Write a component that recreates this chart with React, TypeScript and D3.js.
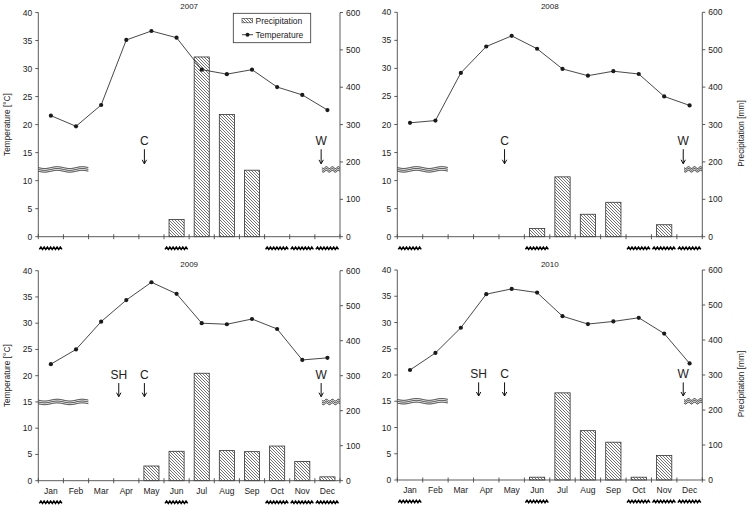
import React from "react";
import * as d3 from "d3";

const months = ["Jan", "Feb", "Mar", "Apr", "May", "Jun", "Jul", "Aug", "Sep", "Oct", "Nov", "Dec"];
const years = ["2007", "2008", "2009", "2010"];

const temp2007 = [21.6, 19.7, 23.5, 35.1, 36.7, 35.5, 29.8, 29.0, 29.8, 26.7, 25.3, 22.6];
const temp2008 = [20.3, 20.7, 29.2, 33.9, 35.8, 33.5, 29.9, 28.7, 29.5, 29.0, 25.0, 23.4];
const temp2009 = [22.2, 25.0, 30.3, 34.4, 37.8, 35.6, 30.0, 29.8, 30.8, 28.9, 23.0, 23.4];
const temp2010 = [20.95, 24.2, 29.0, 35.4, 36.4, 35.7, 31.2, 29.7, 30.2, 30.9, 27.9, 22.2];

const prec2007 = [0, 0, 0, 0, 0, 46, 481, 327, 178, 0, 0, 0];
const prec2008 = [0, 0, 0, 0, 0, 22, 160, 60, 92, 0, 32, 0];
const prec2009 = [0, 0, 0, 0, 42, 84, 307, 86, 83, 99, 55, 11];
const prec2010 = [0, 0, 0, 0, 0, 8, 249, 141, 108, 8, 70, 0];

const temps = [temp2007, temp2008, temp2009, temp2010];
const precs = [prec2007, prec2008, prec2009, prec2010];

// level (°C) of the wavy band marker per year
const waveLevel = [12, 12, 15, 15];

// event markers: label and position in months from Jan start
const markers2007 = [{ label: "C", pos: 4.22 }, { label: "W", pos: 11.25 }];
const markers2008 = [{ label: "C", pos: 4.22 }, { label: "W", pos: 11.25 }];
const markers2009 = [{ label: "SH", pos: 3.2 }, { label: "C", pos: 4.22 }, { label: "W", pos: 11.25 }];
const markers2010 = [{ label: "SH", pos: 3.2 }, { label: "C", pos: 4.22 }, { label: "W", pos: 11.25 }];
const markers = [markers2007, markers2008, markers2009, markers2010];

// months marked with zigzag below axis
const zigMonths = [0, 5, 9, 10, 11];

const tempTicks = [0, 5, 10, 15, 20, 25, 30, 35, 40];
const precTicks = [0, 100, 200, 300, 400, 500, 600];

const panels = [
  { left: 38.3, right: 340, top: 12.5, bottom: 236.7, leftTitle: true, rightTitle: false, monthLabels: false, legend: true },
  { left: 397.3, right: 702.3, top: 12.3, bottom: 236.7, leftTitle: false, rightTitle: true, monthLabels: false, legend: false },
  { left: 38.3, right: 340, top: 270.7, bottom: 480.7, leftTitle: true, rightTitle: false, monthLabels: true, legend: false },
  { left: 397.3, right: 702.3, top: 270, bottom: 480, leftTitle: false, rightTitle: true, monthLabels: true, legend: false },
];

const FONT = "'Liberation Sans', Arial, sans-serif";
const AXIS = "#4a4a4a";
const TXT = "#222";

function sinePath(x0: number, x1: number, y: number, period: number, amp: number) {
  const pts: [number, number][] = [];
  for (let x = x0; x <= x1 + 0.01; x += 0.5) {
    pts.push([x, y + amp * Math.sin(((x - x0) / period) * 2 * Math.PI)]);
  }
  return d3.line()(pts) || "";
}

function zigPath(x0: number, x1: number, y: number, n: number, amp: number) {
  const pts: [number, number][] = [];
  const steps = n * 2;
  for (let i = 0; i <= steps; i++) {
    pts.push([x0 + ((x1 - x0) * i) / steps, y + (i % 2 === 0 ? amp : -amp)]);
  }
  return d3.line()(pts) || "";
}

function WaveBand({ x0, x1, y, period }: { x0: number; x1: number; y: number; period: number }) {
  const gap = 1.8;
  return (
    <g>
      <rect x={x0} y={y - gap * 1.5} width={x1 - x0} height={gap * 3} fill="white" />
      {[-1, 0, 1].map((k) => (
        <path key={k} d={sinePath(x0, x1, y + k * gap, period, 0.9)} fill="none" stroke="#222" strokeWidth={1} />
      ))}
    </g>
  );
}

function Panel({ idx }: { idx: number }) {
  const p = panels[idx];
  const temp = temps[idx];
  const prec = precs[idx];
  const x = d3.scaleBand<string>().domain(months).range([p.left, p.right]).paddingInner(0.4).paddingOuter(0.2);
  const step = x.step();
  const yT = d3.scaleLinear().domain([0, 40]).range([p.bottom, p.top]);
  const yP = d3.scaleLinear().domain([0, 600]).range([p.bottom, p.top]);
  const line = d3
    .line<number>()
    .x((_, i) => (x(months[i]) as number) + x.bandwidth() / 2)
    .y((d) => yT(d));
  const bounds = d3.range(13).map((i) => p.left + i * step);
  const wl = waveLevel[idx];
  const zigY = p.monthLabels ? p.bottom + 21.5 : p.bottom + 11.5;
  const midY = (p.top + p.bottom) / 2;

  return (
    <g>
      <text x={(p.left + p.right) / 2} y={p.top - 3.5} textAnchor="middle" fontSize={8} fill={TXT}>
        {years[idx]}
      </text>

      {/* bars */}
      {prec.map((v, i) =>
        v > 0 ? (
          <rect
            key={i}
            x={x(months[i])}
            y={yP(v)}
            width={x.bandwidth()}
            height={yP(0) - yP(v)}
            fill="url(#hatch)"
            stroke="#333"
            strokeWidth={0.8}
          />
        ) : null
      )}

      {/* wavy band markers */}
      <WaveBand x0={p.left} x1={p.left + 2 * step} y={yT(wl)} period={step} />
      <WaveBand x0={p.left + 11.28 * step} x1={p.right} y={yT(wl)} period={6} />

      {/* event markers */}
      {markers[idx].map((m, i) => {
        const mx = p.left + m.pos * step;
        return (
          <g key={i}>
            <text x={mx} y={yT(wl + 5.2) + 4.3} textAnchor="middle" fontSize={12} fill={TXT}>
              {m.label}
            </text>
            <line x1={mx} x2={mx} y1={yT(wl + 3.6)} y2={yT(wl + 1.0)} stroke="#111" strokeWidth={1} />
            <path d={`M${mx - 2.2},${yT(wl + 1.0) - 4} L${mx},${yT(wl + 1.0)} L${mx + 2.2},${yT(wl + 1.0) - 4}`} fill="none" stroke="#111" strokeWidth={1} />
          </g>
        );
      })}

      {/* temperature line */}
      <path d={line(temp) || ""} fill="none" stroke="#333" strokeWidth={0.9} />
      {temp.map((t, i) => (
        <circle key={i} cx={(x(months[i]) as number) + x.bandwidth() / 2} cy={yT(t)} r={2.1} fill="#1a1a1a" />
      ))}

      {/* axes */}
      <line x1={p.left} x2={p.left} y1={p.top} y2={p.bottom} stroke={AXIS} strokeWidth={0.9} />
      <line x1={p.right} x2={p.right} y1={p.top} y2={p.bottom} stroke={AXIS} strokeWidth={0.9} />
      <line x1={p.left} x2={p.right} y1={p.bottom} y2={p.bottom} stroke={AXIS} strokeWidth={0.9} />
      {tempTicks.map((t) => (
        <g key={t}>
          <line x1={p.left - 3} x2={p.left} y1={yT(t)} y2={yT(t)} stroke={AXIS} strokeWidth={0.9} />
          <text x={p.left - 6} y={yT(t) + 3} textAnchor="end" fontSize={8.5} fill={TXT}>
            {t}
          </text>
        </g>
      ))}
      {precTicks.map((t) => (
        <g key={t}>
          <line x1={p.right} x2={p.right + 3} y1={yP(t)} y2={yP(t)} stroke={AXIS} strokeWidth={0.9} />
          <text x={p.right + 6} y={yP(t) + 3} textAnchor="start" fontSize={8.5} fill={TXT}>
            {t}
          </text>
        </g>
      ))}
      {bounds.map((b, i) => (
        <line key={i} x1={b} x2={b} y1={p.bottom - 2.5} y2={p.bottom + 2.5} stroke={AXIS} strokeWidth={0.9} />
      ))}
      {p.monthLabels &&
        months.map((m) => (
          <text key={m} x={(x(m) as number) + x.bandwidth() / 2} y={p.bottom + 13} textAnchor="middle" fontSize={8.5} fill={TXT}>
            {m}
          </text>
        ))}
      {zigMonths.map((mi) => (
        <path key={mi} d={zigPath(bounds[mi] + 1, bounds[mi + 1] - 1.5, zigY, 7, 1.2)} fill="none" stroke="#000" strokeWidth={1.5} />
      ))}

      {p.leftTitle && (
        <text transform={`translate(10,${midY}) rotate(-90)`} textAnchor="middle" fontSize={8.3} fill={TXT}>
          Temperature [°C]
        </text>
      )}
      {p.rightTitle && (
        <text transform={`translate(743.5,${midY + 9}) rotate(-90)`} textAnchor="middle" fontSize={8.3} fill={TXT}>
          Precipitation [mm]
        </text>
      )}

      {p.legend && (
        <g>
          <rect x={233.3} y={13.3} width={77.4} height={29.4} fill="white" stroke="#333" strokeWidth={0.8} />
          <rect x={242} y={18.3} width={10.5} height={4.5} fill="url(#hatch)" stroke="#333" strokeWidth={0.6} />
          <text x={255.5} y={23.7} fontSize={8.5} fill={TXT}>
            Precipitation
          </text>
          <line x1={242} x2={253} y1={34.7} y2={34.7} stroke="#333" strokeWidth={0.9} />
          <circle cx={247.5} cy={34.7} r={2} fill="#1a1a1a" />
          <text x={255.5} y={37.7} fontSize={8.5} fill={TXT}>
            Temperature
          </text>
        </g>
      )}
    </g>
  );
}

export default function App() {
  return (
    <svg
      width={748}
      height={508}
      style={{ position: "absolute", left: 0, top: 0, background: "white" }}
      fontFamily={FONT}
    >
      <defs>
        <pattern id="hatch" patternUnits="userSpaceOnUse" width={3} height={3}>
          <rect width={3} height={3} fill="white" />
          <path d="M-1,-1 L4,4 M-1,2 L1,4 M2,-1 L4,1" stroke="#444" strokeWidth={0.75} />
        </pattern>
      </defs>
      <rect width={748} height={508} fill="white" />
      {panels.map((_, i) => (
        <Panel key={i} idx={i} />
      ))}
    </svg>
  );
}
